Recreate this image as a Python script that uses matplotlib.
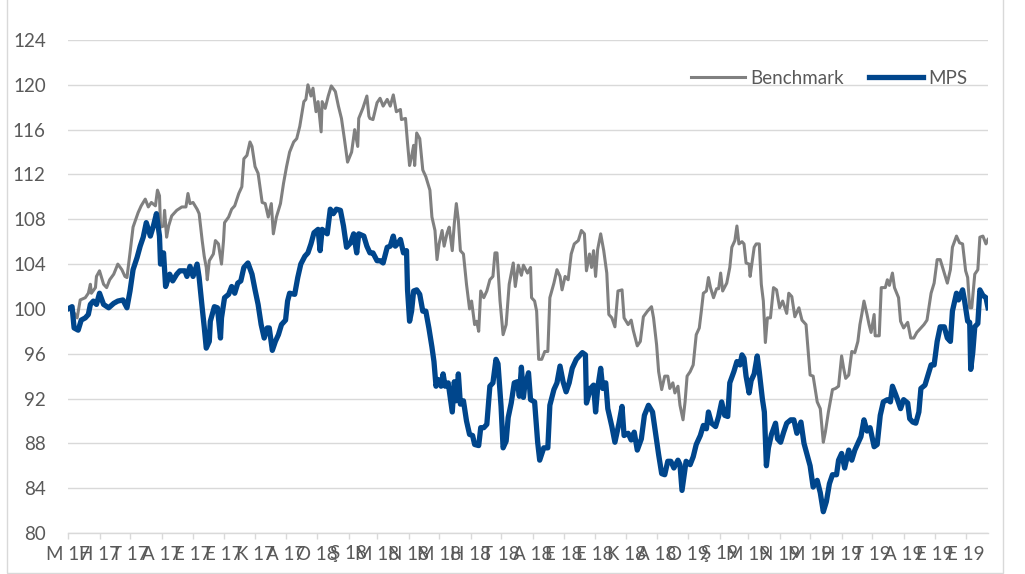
import pandas as pd
import matplotlib
matplotlib.use('Agg')
import matplotlib.pyplot as plt
from matplotlib.patches import Rectangle

# gün: 2017-05-01'den itibaren geçen gün sayısı
bench_days = [0, 5, 9, 12, 17, 20, 22, 23, 27, 28, 31, 35, 38, 41, 45, 49, 53, 56, 58, 61,
              64, 69, 72, 76, 79, 82, 86, 88, 90, 91, 94, 95, 97, 99, 102, 107, 112, 116, 118, 120,
              123, 127, 129, 132, 134, 136, 137, 139, 143, 145, 148, 151, 153, 154, 158, 161, 164, 168, 171,
              173, 176, 179, 181, 184, 187, 191, 194, 197, 200, 202, 205, 209, 212, 215, 218, 222, 225,
              228, 232, 234, 236, 239, 241, 244, 246, 249, 250, 253, 256, 259, 263, 266, 269, 272, 275,
              279, 282, 285, 286, 290, 294, 296, 297, 300, 304, 307, 310, 314, 317, 320, 323, 327, 328,
              332, 334, 336, 338, 340, 341, 343, 346, 349, 352, 356, 358, 361, 363, 365, 368, 370, 373,
              375, 378, 380, 382, 384, 386, 389, 392, 395, 397, 400, 402, 404, 406, 409, 412, 415, 418,
              420, 422, 425, 428, 431, 434, 438, 440, 443, 446, 448, 452, 455, 456, 459, 461, 463, 466,
              469, 472, 474, 478, 481, 484, 486, 489, 492, 495, 498, 502, 505, 508, 510, 513, 515, 517,
              519, 521, 524, 527, 530, 532, 535, 538, 541, 545, 547, 551, 554, 556, 560, 563, 566, 570,
              574, 576, 579, 581, 584, 587, 590, 592, 595, 597, 600, 602, 605, 607, 609, 612, 615, 618,
              621, 623, 625, 628, 630, 632, 635, 638, 640, 642, 644, 648, 651, 653, 656, 658, 660, 663,
              665, 667, 670, 671, 675, 677, 680, 682, 684, 686, 688, 691, 694, 697, 700, 703, 707, 709,
              712, 715, 719, 722, 726, 730, 733, 737, 740, 743, 745, 748, 752, 755, 758, 761, 763, 765,
              768, 771, 774, 777, 779, 781, 783, 786, 788, 790, 793, 794, 798, 800, 804, 806, 808, 811,
              813, 817, 819, 822, 826, 829, 832, 835, 839, 842, 845, 849, 852, 855, 858, 862, 865, 868,
              870, 874, 877, 880, 883, 885, 887, 889, 892, 895, 897, 900, 903, 905]
bench_vals = [100.0, 99.8, 99.2, 100.8, 101.0, 101.4, 102.2, 101.4, 101.9, 102.9, 103.4, 102.2, 101.9, 102.6, 103.1, 104.0, 103.5, 102.9, 102.8, 105.0,
              107.3, 108.6, 109.2, 109.8, 109.1, 109.5, 109.2, 110.6, 110.1, 107.3, 107.4, 108.8, 106.4, 107.4, 108.3, 108.8, 109.1, 109.1, 110.3, 109.4,
              109.5, 108.9, 108.5, 106.1, 104.7, 103.7, 102.6, 104.3, 104.9, 106.1, 105.8, 104.0, 106.1, 107.7, 108.2, 108.9, 109.2, 110.3, 110.9,
              113.4, 113.7, 114.9, 114.5, 112.7, 112.1, 109.5, 109.4, 108.2, 109.4, 106.7, 108.2, 109.4, 111.2, 112.7, 114.0, 114.9, 115.2,
              116.3, 118.5, 118.7, 120.0, 119.0, 119.7, 117.6, 118.5, 115.8, 118.5, 117.9, 119.0, 119.9, 119.4, 118.1, 117.0, 115.1, 113.1,
              114.0, 116.0, 114.5, 117.0, 117.9, 119.0, 117.2, 117.0, 116.9, 118.4, 118.8, 118.1, 118.7, 118.1, 119.1, 117.6, 117.8, 116.9,
              117.0, 114.8, 112.8, 113.6, 114.6, 112.8, 115.7, 115.2, 112.4, 111.8, 110.6, 108.2, 107.0, 104.4, 105.8, 107.0, 105.6, 106.8,
              107.3, 105.2, 107.6, 109.4, 107.9, 105.2, 104.9, 102.2, 100.0, 100.7, 98.6, 98.9, 98.0, 101.6, 101.0, 101.6, 102.6, 102.9,
              105.0, 105.0, 100.7, 97.7, 98.6, 102.2, 104.1, 102.0, 103.9, 103.0, 103.9, 103.2, 103.7, 101.0, 100.7, 99.8, 95.5, 95.5,
              96.2, 96.2, 101.0, 102.3, 103.5, 102.9, 101.7, 102.9, 102.6, 104.9, 105.8, 106.1, 107.0, 106.7, 103.4, 104.9, 103.7, 105.2,
              102.9, 105.3, 106.7, 105.2, 103.2, 99.5, 99.2, 98.4, 101.6, 101.7, 99.2, 98.6, 99.0, 98.1, 96.7, 97.1, 99.3, 99.8,
              100.2, 99.2, 96.8, 94.4, 92.8, 94.0, 94.0, 92.9, 93.4, 92.5, 93.1, 91.4, 90.1, 91.7, 94.0, 94.4, 95.0, 97.7,
              98.3, 99.8, 101.4, 101.6, 102.8, 101.9, 101.0, 101.8, 101.8, 103.2, 101.6, 102.3, 103.7, 105.5, 106.1, 107.4, 105.8, 106.0,
              105.8, 104.1, 104.0, 102.9, 105.5, 105.8, 105.8, 102.2, 100.7, 97.0, 99.2, 99.2, 101.9, 101.7, 100.1, 100.7, 99.6, 101.4,
              101.1, 99.3, 100.1, 99.0, 98.6, 94.1, 94.0, 91.7, 91.1, 88.1, 89.0, 90.8, 92.8, 92.9, 93.1, 95.8, 94.7, 93.8,
              94.1, 96.2, 96.1, 97.1, 98.6, 99.6, 100.7, 99.5, 98.6, 97.9, 99.5, 97.6, 97.6, 101.9, 101.9, 102.6, 102.1, 103.2,
              101.9, 101.0, 98.9, 98.3, 98.8, 97.4, 97.4, 97.9, 98.3, 98.6, 99.0, 101.4, 102.3, 104.4, 104.4, 103.2, 102.3, 103.5,
              105.5, 106.5, 105.9, 105.8, 103.4, 102.8, 100.1, 100.1, 103.1, 103.5, 106.4, 106.5, 105.8, 106.2]

mps_days = [0, 4, 6, 10, 13, 17, 20, 22, 25, 28, 31, 35, 40, 45, 49, 54, 58, 61, 64, 68,
            71, 74, 77, 81, 84, 87, 90, 91, 94, 96, 100, 103, 107, 110, 115, 117, 120, 123, 127, 129,
            132, 134, 136, 139, 140, 144, 147, 150, 151, 154, 158, 161, 164, 167, 170, 173, 177, 181, 184,
            187, 190, 193, 196, 198, 201, 204, 207, 210, 214, 216, 218, 223, 226, 229, 233, 236, 239, 242,
            246, 248, 250, 255, 258, 261, 264, 268, 271, 274, 278, 281, 284, 286, 291, 294, 297, 300, 304,
            307, 310, 314, 317, 320, 322, 325, 327, 330, 333, 334, 336, 338, 340, 343, 346, 349, 352, 355,
            358, 360, 362, 364, 367, 369, 371, 374, 378, 380, 382, 384, 386, 389, 392, 395, 398, 400, 404,
            406, 409, 412, 415, 418, 421, 423, 426, 428, 431, 433, 436, 439, 442, 444, 446, 448, 449, 453,
            455, 459, 462, 464, 468, 472, 474, 478, 481, 484, 487, 490, 493, 496, 500, 503, 506, 509, 510,
            514, 517, 519, 521, 524, 526, 529, 531, 535, 538, 542, 545, 547, 551, 554, 557, 560, 564, 567,
            571, 575, 578, 581, 584, 587, 590, 593, 596, 600, 602, 604, 606, 608, 612, 615, 618, 622, 625,
            628, 630, 633, 637, 640, 643, 646, 649, 651, 655, 658, 661, 663, 665, 667, 670, 672, 675, 678,
            680, 683, 685, 687, 689, 692, 696, 698, 701, 704, 707, 711, 714, 717, 721, 724, 727, 730, 733,
            737, 740, 743, 746, 749, 752, 756, 758, 761, 764, 768, 771, 774, 777, 780, 783, 786, 789, 793,
            796, 799, 802, 806, 809, 811, 814, 816, 819, 822, 826, 828, 831, 834, 837, 839, 843, 846, 849,
            852, 855, 858, 862, 865, 868, 870, 874, 876, 880, 882, 885, 887, 888, 890, 892, 895, 897, 900,
            903, 905]
mps_vals = [100.0, 100.2, 98.3, 98.1, 99.0, 99.2, 99.5, 100.4, 100.7, 100.4, 101.4, 100.4, 100.1, 100.5, 100.7, 100.8, 100.1, 101.6, 103.5, 104.6,
            105.6, 106.4, 107.7, 106.5, 107.4, 108.5, 106.5, 104.0, 105.0, 102.0, 103.1, 102.5, 103.1, 103.4, 103.4, 102.9, 103.8, 102.9, 104.0, 102.8,
            100.1, 98.4, 96.5, 97.1, 98.9, 100.2, 100.1, 97.4, 99.2, 101.0, 101.3, 102.0, 101.4, 102.3, 102.5, 103.7, 104.1, 103.1, 101.7,
            100.4, 98.6, 97.4, 98.3, 98.3, 96.3, 97.1, 97.7, 98.6, 99.0, 100.7, 101.4, 101.3, 102.8, 104.0, 104.7, 105.0, 105.8, 106.8,
            107.1, 105.2, 107.1, 106.7, 108.9, 108.5, 108.9, 108.8, 107.4, 105.5, 105.9, 106.7, 105.0, 106.7, 106.5, 105.6, 105.0, 105.0, 104.3,
            104.3, 104.1, 105.5, 105.6, 106.5, 105.6, 105.9, 106.2, 105.0, 105.2, 101.7, 98.9, 99.8, 101.6, 101.7, 101.3, 99.8, 99.8, 98.3,
            96.6, 95.3, 93.1, 93.7, 93.1, 94.2, 93.1, 93.4, 90.8, 93.5, 91.8, 94.2, 91.5, 91.8, 90.0, 88.8, 88.7, 87.9, 87.8,
            89.4, 89.4, 89.7, 93.1, 93.4, 95.5, 95.1, 91.3, 87.6, 88.2, 90.3, 91.6, 93.4, 93.5, 92.2, 94.8, 92.1, 92.9, 94.3,
            91.9, 91.7, 88.1, 86.5, 87.6, 87.6, 91.4, 92.8, 93.4, 94.9, 93.5, 92.6, 93.4, 94.7, 95.5, 95.8, 96.1, 95.9, 91.6,
            92.9, 93.2, 90.8, 92.9, 94.7, 92.9, 93.4, 91.1, 89.5, 88.1, 89.8, 91.3, 88.7, 88.9, 88.3, 89.0, 87.4, 88.4, 90.5,
            91.4, 90.8, 88.9, 87.0, 85.3, 85.2, 86.4, 86.4, 85.8, 86.5, 86.1, 83.8, 85.1, 86.4, 86.1, 86.8, 87.9, 88.7, 89.6,
            89.3, 90.8, 89.8, 89.5, 90.4, 91.7, 90.5, 90.4, 93.4, 94.4, 95.3, 95.0, 95.9, 95.6, 94.0, 92.5, 93.6, 94.2, 95.8,
            94.4, 92.0, 90.8, 86.0, 87.6, 88.8, 89.8, 88.4, 88.1, 89.0, 89.8, 90.1, 90.1, 88.9, 89.9, 88.0, 87.0, 86.0, 84.1,
            84.7, 83.6, 81.9, 82.8, 84.4, 85.2, 85.2, 86.5, 87.1, 85.8, 87.4, 86.5, 87.4, 88.0, 88.6, 90.1, 89.1, 89.4, 87.7,
            87.9, 90.5, 91.7, 91.9, 91.7, 93.1, 92.4, 91.9, 91.1, 91.9, 91.6, 90.2, 89.9, 89.8, 90.8, 92.9, 93.2, 94.1, 95.0,
            95.0, 97.1, 98.4, 98.4, 97.4, 97.1, 99.8, 101.4, 100.8, 101.7, 100.7, 98.9, 98.8, 94.6, 96.1, 98.4, 98.7, 101.7, 101.2,
            101.0, 100.1]

month_labels = ["M 17", "H 17", "T 17", "A 17", "E 17", "E 17", "K 17", "A 17", "O 18", "Ş 18",
                "M 18", "N 18", "M 18", "H 18", "T 18", "A 18", "E 18", "E 18", "K 18", "A 18",
                "O 19", "Ş 19", "M 19", "N 19", "M 19", "H 19", "T 19", "A 19", "E 19", "E 19"]
y_ticks = [80, 84, 88, 92, 96, 100, 104, 108, 112, 116, 120, 124]

GRID = '#d9d9d9'
TEXT = '#595959'


def main():
    plt.rcParams['font.family'] = ['Lato', 'DejaVu Sans']
    fig = plt.figure(figsize=(10.25, 5.74), dpi=100)
    ax = fig.add_axes([68 / 1025, 41 / 574, 920 / 1025, 493 / 574])

    # ay başları (tick konumları)
    start = pd.Timestamp('2017-05-01')
    months = pd.date_range(start, periods=len(month_labels), freq='MS')
    month_days = [(m - start).days for m in months]

    ax.plot(bench_days, bench_vals, color='#808080', lw=2.2, label='Benchmark', zorder=3)
    ax.plot(mps_days, mps_vals, color='#00468c', lw=3.8, label='MPS', zorder=4)

    ax.set_ylim(80, 124)
    ax.set_xlim(0, 905)
    ax.set_yticks(y_ticks)
    ax.set_yticklabels([str(v) for v in y_ticks])
    ax.set_xticks(month_days)
    ax.set_xticklabels(month_labels)

    ax.grid(axis='y', color=GRID, lw=1.0, zorder=0)
    for s in ['left', 'right', 'top']:
        ax.spines[s].set_visible(False)
    ax.spines['bottom'].set_color(GRID)
    ax.spines['bottom'].set_linewidth(1.0)
    ax.tick_params(axis='y', length=0, pad=16, labelsize=13.5, labelcolor=TEXT)
    ax.tick_params(axis='x', length=4, width=1, color=GRID, pad=5, labelsize=13.5, labelcolor=TEXT)

    fig.legend(loc='center', bbox_to_anchor=(0.809, 0.864), ncol=2, frameon=False,
               fontsize=13.5, handlelength=2.9, handletextpad=0.3, columnspacing=1.3,
               labelcolor=TEXT)

    # grafik alanı çerçevesi
    fig.patches.append(Rectangle((7 / 1025, 1 / 574), 996 / 1025, 1.2, transform=fig.transFigure,
                                 fill=False, edgecolor=GRID, lw=1.0))

    fig.savefig('out.png', dpi=100)


if __name__ == '__main__':
    main()
